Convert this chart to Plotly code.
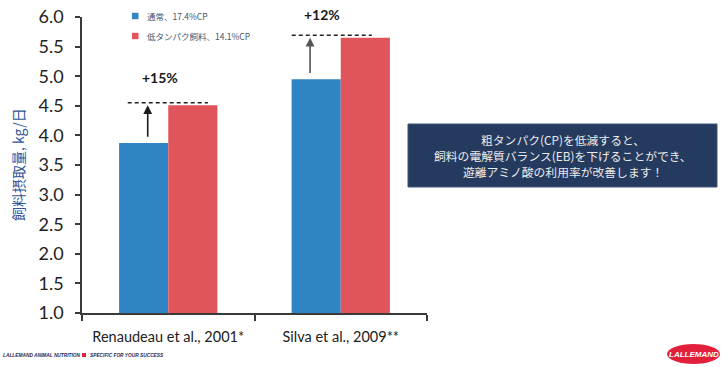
import plotly.graph_objects as go

# ---- data ----
studies = ["Renaudeau et al., 2001*", "Silva et al., 2009**"]
series_names = ["通常、17.4%CP", "低タンパク飼料、14.1%CP"]
normal_cp = [3.87, 4.95]
low_cp = [4.51, 5.65]
increase_labels = ["+15%", "+12%"]
y_title = "飼料摂取量, kg/日"
note_lines = ["粗タンパク(CP)を低減すると、",
              "飼料の電解質バランス(EB)を下げることができ、",
              "遊離アミノ酸の利用率が改善します！"]

BLUE = "#2f84c4"
RED = "#e0545b"
AXIS = "#3a3a3a"

# pixel -> paper helpers (plot area: x 82..427, y 17..313)
L, R, T, B = 82, 427, 17, 313
Y0, Y1 = 1, 6
def px(x):
    return (x - L) / (R - L)
def py(y):
    return (B - y) / (B - T)
def val_to_paper(v):
    return (v - Y0) / (Y1 - Y0)

xs = list(range(len(studies)))

fig = go.Figure()
fig.add_trace(go.Bar(x=xs, y=normal_cp, name=series_names[0], marker_color=BLUE,
                     marker_line_width=0, showlegend=False))
fig.add_trace(go.Bar(x=xs, y=low_cp, name=series_names[1], marker_color=RED,
                     marker_line_width=0, showlegend=False))

shapes = []
annotations = []

def ann(**kw):
    kw.setdefault("showarrow", False)
    kw.setdefault("xanchor", "center")
    kw.setdefault("yanchor", "middle")
    annotations.append(kw)

# dashed reference lines + arrows + labels
dash_x = [(-0.235, 0.23), (-0.284, 0.18)]
arrow_dx = [-0.119, -0.178]
arrow_col = ["#1a1a1a", "#555555"]
label_dx = [-0.05, -0.11]
label_dv = [0.47, 0.4]
for i in xs:
    shapes.append(dict(type="line", xref="x", yref="y", x0=i + dash_x[i][0], x1=i + dash_x[i][1],
                       y0=low_cp[i] + 0.04, y1=low_cp[i] + 0.04,
                       line=dict(color="#222222", width=1.5, dash="4px,3px")))
    ann(xref="x", yref="y", axref="x", ayref="y",
        x=i + arrow_dx[i], y=low_cp[i], ax=i + arrow_dx[i], ay=normal_cp[i] + 0.08,
        showarrow=True, arrowhead=2, arrowsize=1.1, arrowwidth=1.6,
        arrowcolor=arrow_col[i], text="")
    ann(xref="x", yref="paper", x=i + label_dx[i], y=val_to_paper(low_cp[i] + label_dv[i]),
        text="<b>" + increase_labels[i] + "</b>",
        font=dict(size=14, color="#1a1a1a", family="Lato"))

# manual legend
leg_colors = [BLUE, RED]
leg_y = [16, 36]
for name, col, yy in zip(series_names, leg_colors, leg_y):
    shapes.append(dict(type="rect", xref="paper", yref="paper",
                       x0=px(132), x1=px(138.5), y0=py(yy + 3.2), y1=py(yy - 3.2),
                       fillcolor=col, line_width=0))
    ann(xref="paper", yref="paper", x=px(145), y=py(yy), xanchor="left", text=name,
        font=dict(size=8.5, color="#44546a", family="Noto Sans CJK JP"))

# y-axis title
ann(xref="paper", yref="paper", x=px(18), y=py(165), text=y_title, textangle=-90,
    font=dict(size=14, color="#2f5597", family="Noto Sans CJK JP"))

# note box
shapes.append(dict(type="rect", xref="paper", yref="paper", x0=px(408), x1=px(717),
                   y0=py(187), y1=py(124), fillcolor="#243a5e",
                   line=dict(color="#3e5678", width=1)))
for k, line in enumerate(note_lines):
    ann(xref="paper", yref="paper", x=px(563), y=py(139.5 + 16 * k), text=line,
        font=dict(size=11.8, color="#ececec", family="Noto Sans CJK JP"))

# footer
ann(xref="paper", yref="paper", x=px(1), y=py(355), xanchor="left",
    text="<b><i>LALLEMAND ANIMAL NUTRITION</i></b>",
    font=dict(size=4.8, color="#1f2a55", family="Liberation Sans"))
shapes.append(dict(type="rect", xref="paper", yref="paper", x0=px(82), x1=px(86),
                   y0=py(357), y1=py(353), fillcolor="#e3203c", line_width=0))
ann(xref="paper", yref="paper", x=px(88), y=py(355), xanchor="left",
    text="<b><i>SPECIFIC FOR YOUR SUCCESS</i></b>",
    font=dict(size=4.8, color="#1f2a55", family="Liberation Sans"))
shapes.append(dict(type="circle", xref="paper", yref="paper", x0=px(667), x1=px(720),
                   y0=py(364), y1=py(344), fillcolor="#e3203c", line_width=0))
ann(xref="paper", yref="paper", x=px(693.5), y=py(354.5),
    text="<b><i>LALLEMAND</i></b>",
    font=dict(size=8, color="white", family="Liberation Sans"))

fig.update_layout(
    width=725, height=367,
    margin=dict(l=L, r=725 - R, t=T, b=367 - B, autoexpand=False),
    paper_bgcolor="white", plot_bgcolor="white",
    barmode="group", bargap=0.43, bargroupgap=0,
    showlegend=False,
    shapes=shapes, annotations=annotations,
    xaxis=dict(range=[-0.5, 1.5], tickvals=xs, ticktext=studies, ticks="",
               showline=True, linecolor=AXIS, linewidth=1.5, showgrid=False, zeroline=False,
               tickfont=dict(size=14.5, color="#222222", family="Lato"), ticklabelstandoff=10,
               minor=dict(ticks="outside", tick0=0.5, dtick=1, ticklen=6, tickcolor=AXIS, tickwidth=1.5),
               automargin=False, fixedrange=True),
    yaxis=dict(range=[Y0, Y1], dtick=0.5, tickformat=".1f", ticks="outside", ticklen=5,
               tickcolor=AXIS, tickwidth=1.5, showline=True, linecolor=AXIS, linewidth=1.5,
               showgrid=False, zeroline=False, ticklabelstandoff=8,
               tickfont=dict(size=18, color="#222222", family="Lato"),
               automargin=False, fixedrange=True),
)

fig.write_html("out.html")
